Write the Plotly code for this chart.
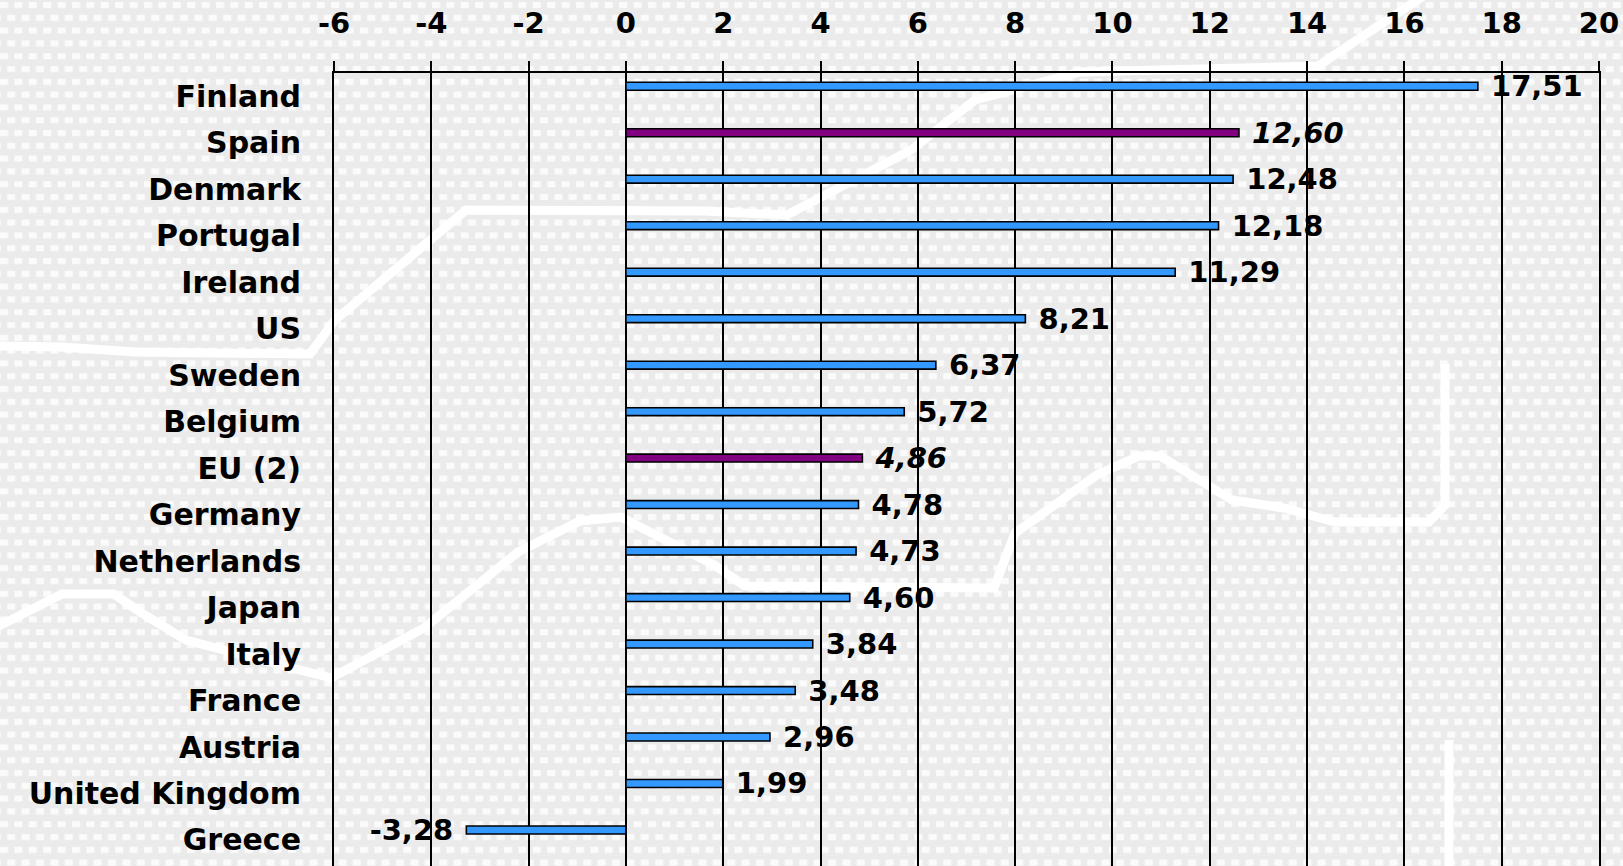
import base64
import plotly.graph_objects as go

# Annual growth figures (%), ordered as shown top to bottom
countries = ["Finland", "Spain", "Denmark", "Portugal", "Ireland", "US", "Sweden",
             "Belgium", "EU (2)", "Germany", "Netherlands", "Japan", "Italy",
             "France", "Austria", "United Kingdom", "Greece"]
values = [17.51, 12.60, 12.48, 12.18, 11.29, 8.21, 6.37, 5.72, 4.86, 4.78,
          4.73, 4.60, 3.84, 3.48, 2.96, 1.99, -3.28]
highlighted = ["Spain", "EU (2)"]
x_ticks = list(range(-6, 21, 2))

BLUE = "#3399ff"
PURPLE = "#800080"
FONT = "DejaVu Sans"

W, H = 1623, 866
ML, MR, MT, MB = 334, 24, 73, 0


def fmt(v):
    s = f"{v:.2f}".replace(".", ",")
    return "\u00a0" + s if v >= 0 else s + "\u00a0"


colors = [PURPLE if c in highlighted else BLUE for c in countries]
labels = [f"<i>{fmt(v)}</i>" if c in highlighted else fmt(v)
          for c, v in zip(countries, values)]

fig = go.Figure(go.Bar(
    y=countries,
    x=values,
    orientation="h",
    marker=dict(color=colors, line=dict(color="black", width=1.6)),
    width=0.17,
    offset=-0.3,
    text=labels,
    textposition="outside",
    constraintext="none",
    cliponaxis=False,
    textfont=dict(family=FONT, size=29, color="black", weight="bold"),
    hoverinfo="skip",
))

# Decorative backdrop: dotted grey texture with a few white swooshes
swooshes = [
    "1425,-5 1318,66 1080,72 975,100 911,150 787,215 704,211 466,210 335,320 "
    "310,354 135,352 62,347 -5,346",
    "-5,628 62,594 114,594 140,612 186,640 331,678 424,628 518,552 580,521 621,517 "
    "714,565 745,586 994,588 1015,533 1097,475 1139,456 1160,456 1232,500 1284,508 "
    "1335,522 1429,522 1445,505 1445,364",
    "1449,740 1449,870",
]
paths = "".join(
    f'<polyline points="{p}" fill="none" stroke="#ffffff" stroke-width="9"/>'
    for p in swooshes
)
svg = f'''<svg xmlns="http://www.w3.org/2000/svg" width="{W}" height="{H}">
<defs><pattern id="d" width="14.4" height="25.6" patternUnits="userSpaceOnUse">
<rect x="0" y="2" width="8" height="6" fill="#fbfbfb"/>
<rect x="7.2" y="14.8" width="8" height="6" fill="#fbfbfb"/>
<rect x="-7.2" y="14.8" width="8" height="6" fill="#fbfbfb"/>
</pattern></defs>
<rect width="{W}" height="{H}" fill="#ebebeb"/>
<rect width="{W}" height="{H}" fill="url(#d)"/>
{paths}
</svg>'''
uri = "data:image/svg+xml;base64," + base64.b64encode(svg.encode()).decode()
pw, ph = W - ML - MR, H - MT - MB

fig.update_layout(
    width=W, height=H,
    margin=dict(l=ML, r=MR, t=MT, b=MB, pad=0),
    paper_bgcolor="#ebebeb",
    plot_bgcolor="rgba(0,0,0,0)",
    separators=",.",
    showlegend=False,
    images=[dict(source=uri, xref="paper", yref="paper",
                 x=-ML / pw, y=1 + MT / ph, sizex=W / pw, sizey=H / ph,
                 xanchor="left", yanchor="top", sizing="stretch", layer="below")],
    xaxis=dict(
        side="top",
        range=[-6, 20],
        tickvals=x_ticks,
        ticktext=[str(t) for t in x_ticks],
        showgrid=True, gridcolor="black", gridwidth=2,
        zeroline=True, zerolinecolor="black", zerolinewidth=2,
        showline=True, linecolor="black", linewidth=2,
        ticks="outside", ticklen=10, tickwidth=2, tickcolor="black",
        ticklabelstandoff=16,
        tickfont=dict(family=FONT, size=29, color="black", weight="bold"),
        fixedrange=True,
    ),
    yaxis=dict(
        type="category",
        categoryorder="array", categoryarray=countries,
        range=[16.56, -0.5],
        showgrid=False, zeroline=False,
        showline=True, mirror=True, linecolor="black", linewidth=2,
        ticks="", ticklabelstandoff=25,
        tickfont=dict(family=FONT, size=30, color="black", weight="bold"),
        fixedrange=True,
    ),
)

fig.write_html("out.html")
